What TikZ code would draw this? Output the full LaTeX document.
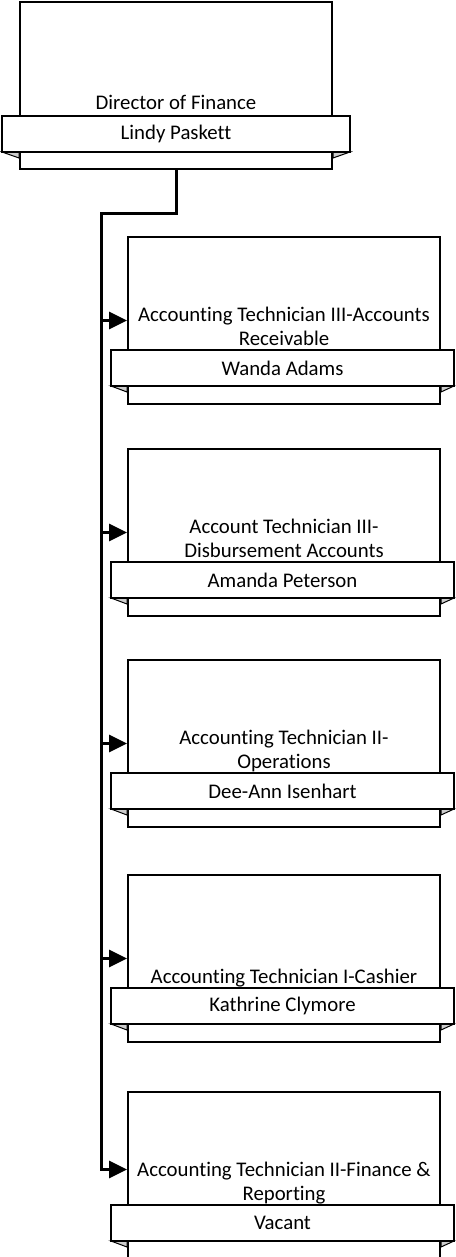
\documentclass[tikz,border=0pt]{standalone}
\usepackage{fontspec}
\setmainfont{Carlito}[Ligatures={NoCommon}]
\usetikzlibrary{arrows.meta,calc}
\newcommand\ttlfont{\fontsize{20.8}{24}\selectfont}
\newcommand\nmfont{\fontsize{20.8}{24}\selectfont}
\tikzset{
  unitbox/.style={draw=black, line width=2pt, fill=white, minimum width=312pt, minimum height=167pt, inner sep=0pt},
  namebar/.style={draw=black, line width=2pt, fill=white, minimum height=36pt, inner sep=0pt, font=\nmfont},
  fold/.style={draw=black, line width=1pt, fill=gray!40, line join=miter},
  titletext/.style={inner sep=0pt, anchor=south, align=center, font=\ttlfont, execute at end node={\rule[-5pt]{0pt}{5pt}}},
  arr/.style={line width=3pt, line join=miter, -{Triangle[length=18pt,width=17pt]}},
}
\begin{document}
\begin{tikzpicture}[x=1pt,y=-1pt]
\useasboundingbox (0,0) rectangle (455,1257);

% Director
\node[unitbox] (r0) at (176,86) {};
\filldraw[fold] (2,152) coordinate (f0) -- (f0 -| r0.west) -- ++(0,6) -- cycle;
\filldraw[fold] (350,152) coordinate (g0) -- (g0 -| r0.east) -- ++(0,6) -- cycle;
\node[namebar, minimum width=348pt] (b0) at (176,134) {Lindy Paskett};
\node[titletext] (t0) at (176,115) {Director of Finance};

% child 1
\node[unitbox] (r1) at (284,320.5) {};
\filldraw[fold] (111,386) coordinate (f1) -- (f1 -| r1.west) -- ++(0,6) -- cycle;
\filldraw[fold] (454,386) coordinate (g1) -- (g1 -| r1.east) -- ++(0,6) -- cycle;
\node[namebar, minimum width=343pt] (b1) at (282.5,368) {Wanda Adams};
\node[titletext] (t1) at (284,351) {Accounting Technician III-Accounts\\Receivable};

% child 2
\node[unitbox] (r2) at (284,532.5) {};
\filldraw[fold] (111,598) coordinate (f2) -- (f2 -| r2.west) -- ++(0,6) -- cycle;
\filldraw[fold] (454,598) coordinate (g2) -- (g2 -| r2.east) -- ++(0,6) -- cycle;
\node[namebar, minimum width=343pt] (b2) at (282.5,580) {Amanda Peterson};
\node[titletext] (t2) at (284,563) {Account Technician III-\\Disbursement Accounts};

% child 3
\node[unitbox] (r3) at (284,743.5) {};
\filldraw[fold] (111,809) coordinate (f3) -- (f3 -| r3.west) -- ++(0,6) -- cycle;
\filldraw[fold] (454,809) coordinate (g3) -- (g3 -| r3.east) -- ++(0,6) -- cycle;
\node[namebar, minimum width=343pt] (b3) at (282.5,791) {Dee-Ann Isenhart};
\node[titletext] (t3) at (284,774) {Accounting Technician II-\\Operations};

% child 4
\node[unitbox] (r4) at (284,958.5) {};
\filldraw[fold] (111,1024) coordinate (f4) -- (f4 -| r4.west) -- ++(0,6) -- cycle;
\filldraw[fold] (454,1024) coordinate (g4) -- (g4 -| r4.east) -- ++(0,6) -- cycle;
\node[namebar, minimum width=343pt] (b4) at (282.5,1006) {Kathrine Clymore};
\node[titletext] (t4) at (284,989) {Accounting Technician I-Cashier};

% child 5
\node[unitbox] (r5) at (284,1175.5) {};
\filldraw[fold] (111,1241) coordinate (f5) -- (f5 -| r5.west) -- ++(0,6) -- cycle;
\filldraw[fold] (454,1241) coordinate (g5) -- (g5 -| r5.east) -- ++(0,6) -- cycle;
\node[namebar, minimum width=343pt] (b5) at (282.5,1223) {Vacant};
\node[titletext] (t5) at (284,1206) {Accounting Technician II-Finance \&\\Reporting};

% connectors
\coordinate (j) at (101,214);
\coordinate (e5) at ($(r5.west)+(0,-6)$);
\draw[arr] (r0.south) |- (j) |- (e5);
\draw[arr] (j |- r1.west) -- (r1.west);
\draw[arr] (j |- r2.west) -- (r2.west);
\draw[arr] (j |- r3.west) -- (r3.west);
\draw[arr] (j |- r4.west) -- (r4.west);
\end{tikzpicture}
\end{document}
